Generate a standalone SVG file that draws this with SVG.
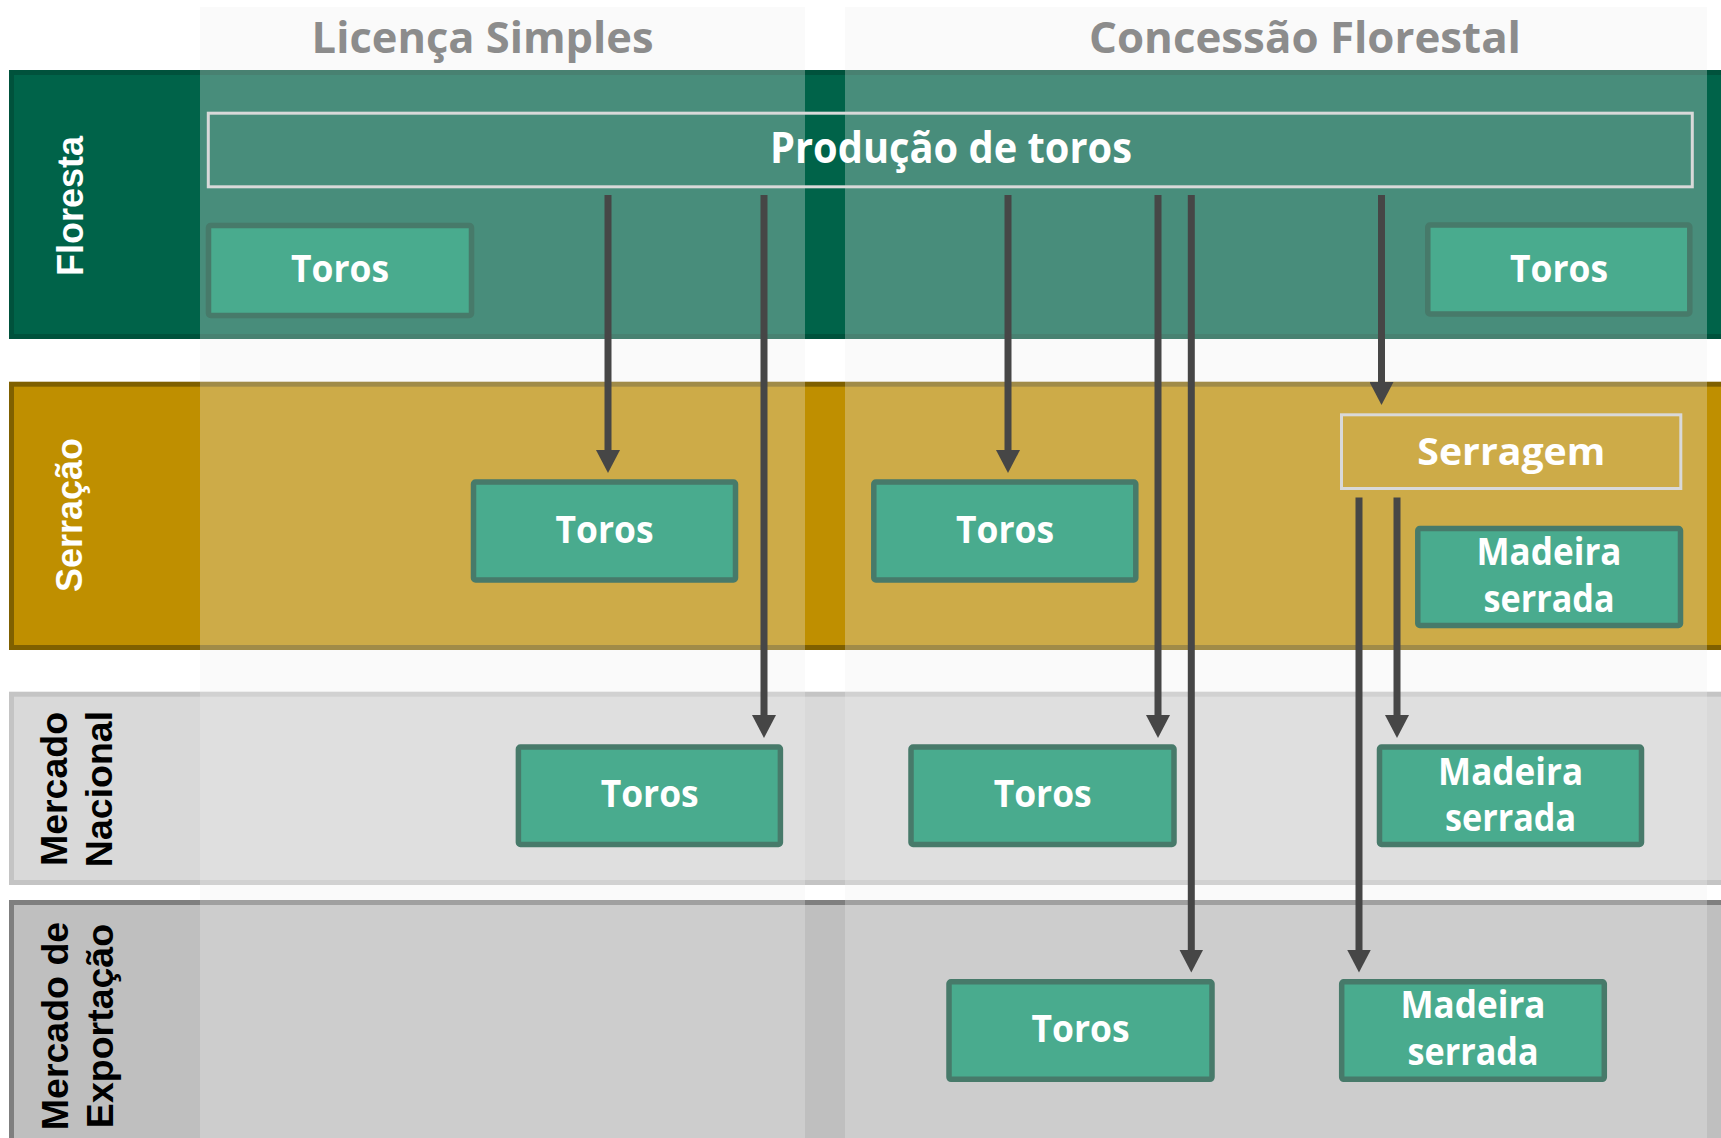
<svg xmlns="http://www.w3.org/2000/svg" width="1721" height="1138" viewBox="0 0 1721 1138">
<style>
.lane{stroke-width:5}
.col{fill:rgb(240,240,240);fill-opacity:0.3}
.colhdr{font-family:"Open Sans","Noto Sans",sans-serif;font-weight:bold;font-size:43px;fill:#8c8c8c}
.lanelbl{font-family:"Liberation Sans",Arial,sans-serif;font-weight:bold;text-anchor:middle}
.node{fill:#49ab8e;stroke:#477a6a;stroke-width:5.5}
.frame{fill:none;stroke:#d9d9d9;stroke-width:3}
.ntxt{font-family:"Open Sans","Noto Sans",sans-serif;font-weight:bold;font-size:37px;fill:#ffffff}
.big{font-size:43px}
.conn{stroke:#464646;stroke-width:7;fill:none;marker-end:url(#ah)}
</style>
<defs>
<marker id="ah" viewBox="0 0 23 24" refX="1" refY="12" markerWidth="23" markerHeight="24" markerUnits="userSpaceOnUse" orient="auto">
<path d="M0,0 L23,12 L0,24 Z" fill="#464646"/>
</marker>
</defs>
<rect x="0" y="0" width="1721" height="1138" fill="#ffffff"/>

<g id="lanes">
<g id="lane-floresta">
<rect class="lane" x="11.5" y="72.5" width="1712" height="264" fill="#006349" stroke="#00523c"/>
</g>
<g id="lane-serracao">
<rect class="lane" x="11.5" y="384.2" width="1712" height="263.3" fill="#bf8f00" stroke="#7f6000"/>
</g>
<g id="lane-nacional">
<rect class="lane" x="11.5" y="694.2" width="1712" height="188.3" fill="#d9d9d9" stroke="#c4c4c4"/>
</g>
<g id="lane-exportacao">
<rect class="lane" x="11.5" y="902.5" width="1712" height="260" fill="#bfbfbf" stroke="#7f7f7f"/>
</g>
</g>

<g id="columns">
<rect class="col" x="200" y="7" width="605" height="1131"/>
<rect class="col" x="845" y="7" width="862" height="1131"/>
<text class="colhdr" x="311.6" y="53.3" textLength="342" lengthAdjust="spacingAndGlyphs">Licença Simples</text>
<text class="colhdr" x="1089" y="53.3" textLength="432" lengthAdjust="spacingAndGlyphs">Concessão Florestal</text>
</g>

<g id="lane-labels">
<text class="lanelbl" font-size="36" fill="#ffffff" transform="translate(82.7,206) rotate(-90)">Floresta</text>
<text class="lanelbl" font-size="36" fill="#ffffff" transform="translate(81.7,515) rotate(-90)">Serração</text>
<text class="lanelbl" font-size="37.5" fill="#000000" transform="translate(66.7,789) rotate(-90)">Mercado</text>
<text class="lanelbl" font-size="37.5" fill="#000000" transform="translate(112.3,789) rotate(-90)">Nacional</text>
<text class="lanelbl" font-size="37.5" fill="#000000" transform="translate(67.7,1026) rotate(-90)">Mercado de</text>
<text class="lanelbl" font-size="37.5" fill="#000000" transform="translate(113.3,1026) rotate(-90)">Exportação</text>
</g>

<g id="node-producao">
<rect class="frame" x="208.3" y="113.2" width="1484" height="73.6"/>
<text class="ntxt big" x="770" y="163.3" textLength="362" lengthAdjust="spacingAndGlyphs">Produção de toros</text>
</g>
<g id="node-floresta-toros-ls">
<rect class="node" x="208.5" y="225.5" width="263" height="90" rx="2"/>
<text class="ntxt" x="291" y="281.7" textLength="98" lengthAdjust="spacingAndGlyphs">Toros</text>
</g>
<g id="node-floresta-toros-cf">
<rect class="node" x="1427.8" y="225" width="262" height="89" rx="2"/>
<text class="ntxt" x="1510" y="281.5" textLength="98" lengthAdjust="spacingAndGlyphs">Toros</text>
</g>
<g id="node-serracao-toros-ls">
<rect class="node" x="473.5" y="482" width="262" height="98" rx="2"/>
<text class="ntxt" x="555.5" y="543.3" textLength="98" lengthAdjust="spacingAndGlyphs">Toros</text>
</g>
<g id="node-serracao-toros-cf">
<rect class="node" x="873.8" y="482" width="262" height="98" rx="2"/>
<text class="ntxt" x="956" y="543.3" textLength="98" lengthAdjust="spacingAndGlyphs">Toros</text>
</g>
<g id="node-serragem">
<rect class="frame" x="1341.5" y="414.8" width="339.3" height="73.7"/>
<text class="ntxt" font-size="44" x="1417.3" y="465" textLength="188" lengthAdjust="spacingAndGlyphs">Serragem</text>
</g>
<g id="node-serracao-madeira">
<rect class="node" x="1417.8" y="528.5" width="262.7" height="97" rx="2"/>
<text class="ntxt" x="1476.5" y="565" textLength="145" lengthAdjust="spacingAndGlyphs">Madeira</text>
<text class="ntxt" x="1483.5" y="611.7" textLength="131" lengthAdjust="spacingAndGlyphs">serrada</text>
</g>
<g id="node-nacional-toros-ls">
<rect class="node" x="518.4" y="747" width="262" height="97.5" rx="2"/>
<text class="ntxt" x="600.7" y="807.3" textLength="98" lengthAdjust="spacingAndGlyphs">Toros</text>
</g>
<g id="node-nacional-toros-cf">
<rect class="node" x="911" y="747" width="263" height="97.5" rx="2"/>
<text class="ntxt" x="993.7" y="807.3" textLength="98" lengthAdjust="spacingAndGlyphs">Toros</text>
</g>
<g id="node-nacional-madeira">
<rect class="node" x="1379.5" y="747" width="262" height="97.5" rx="2"/>
<text class="ntxt" x="1438.1" y="784.5" textLength="145" lengthAdjust="spacingAndGlyphs">Madeira</text>
<text class="ntxt" x="1445.1" y="831.2" textLength="131" lengthAdjust="spacingAndGlyphs">serrada</text>
</g>
<g id="node-exportacao-toros">
<rect class="node" x="949" y="981.8" width="263" height="97.5" rx="2"/>
<text class="ntxt" x="1031.6" y="1041.7" textLength="98" lengthAdjust="spacingAndGlyphs">Toros</text>
</g>
<g id="node-exportacao-madeira">
<rect class="node" x="1341.7" y="981.8" width="262.6" height="97.5" rx="2"/>
<text class="ntxt" x="1400.5" y="1017.8" textLength="145" lengthAdjust="spacingAndGlyphs">Madeira</text>
<text class="ntxt" x="1407.5" y="1064.5" textLength="131" lengthAdjust="spacingAndGlyphs">serrada</text>
</g>

<g id="connectors">
<line class="conn" x1="608" y1="195" x2="608" y2="451"/>
<line class="conn" x1="764" y1="195" x2="764" y2="716"/>
<line class="conn" x1="1008" y1="195" x2="1008" y2="451"/>
<line class="conn" x1="1158" y1="195" x2="1158" y2="716"/>
<line class="conn" x1="1191.3" y1="195" x2="1191.3" y2="950.5"/>
<line class="conn" x1="1381.5" y1="195" x2="1381.5" y2="383"/>
<line class="conn" x1="1397" y1="497.5" x2="1397" y2="716"/>
<line class="conn" x1="1359" y1="497.5" x2="1359" y2="950.5"/>
</g>
</svg>
